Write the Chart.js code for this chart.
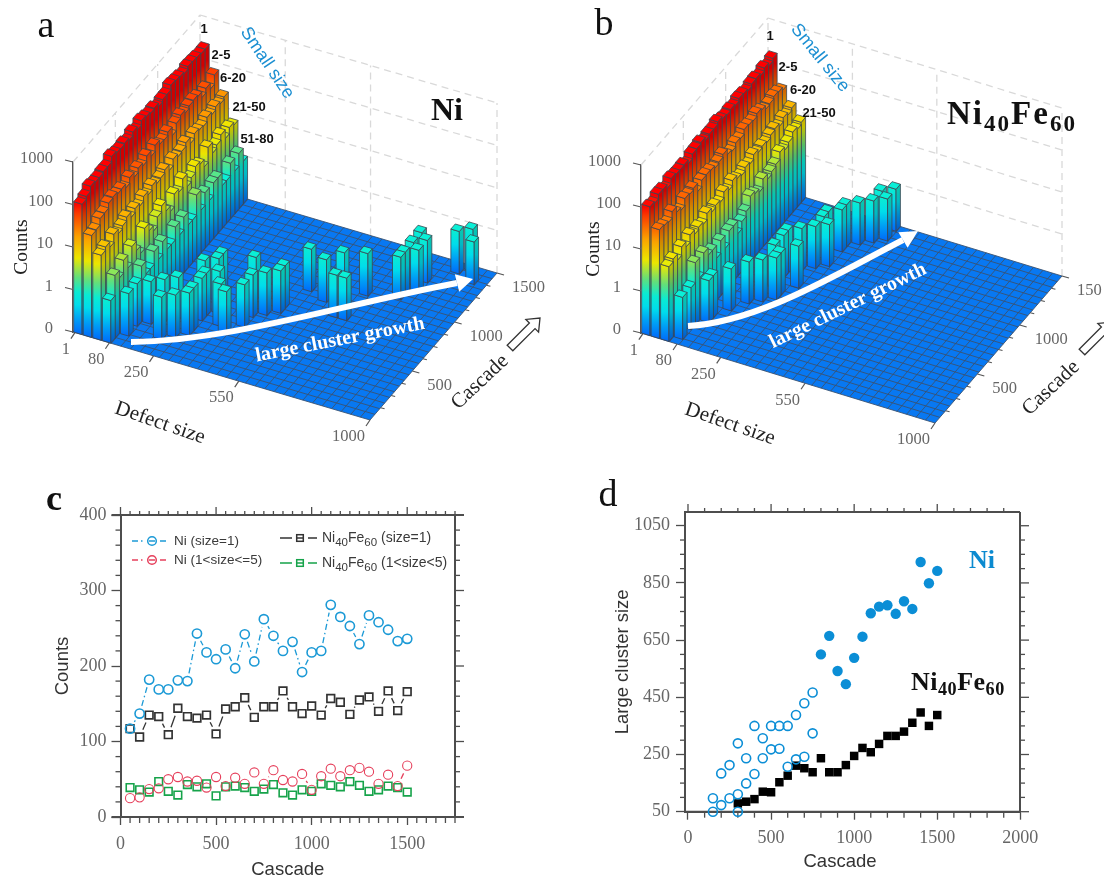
<!DOCTYPE html>
<html><head><meta charset="utf-8">
<style>
html,body{margin:0;padding:0;background:#fff;width:1104px;height:881px;overflow:hidden}
canvas{position:absolute;filter:blur(.4px)}
</style>
<script src="https://cdn.jsdelivr.net/npm/chart.js@4"></script>
</head><body>
<canvas id="pa" width="552" height="460" style="left:0;top:0"></canvas>
<canvas id="pb" width="552" height="460" style="left:552px;top:0"></canvas>
<canvas id="pc" width="552" height="411" style="left:0;top:470px"></canvas>
<canvas id="pd" width="552" height="411" style="left:552px;top:470px"></canvas>
<script>
const cascades=[50,100,150,200,250,300,350,400,450,500,550,600,650,700,750,800,850,900,950,1000,1050,1100,1150,1200,1250,1300,1350,1400,1450,1500];
const niSize1=[117,137,182,169,169,181,180,243,218,209,222,197,242,206,262,240,220,232,192,218,220,281,265,253,229,267,258,248,233,236];
const niSize2to5=[25,26,37,38,50,53,47,48,39,53,41,52,44,59,44,62,49,47,57,36,54,64,54,62,65,60,44,56,41,68];
const feSize1=[117,106,135,133,109,144,133,131,135,110,143,146,158,132,146,146,167,146,137,147,135,157,152,136,155,159,140,167,141,166];
const feSize2to5=[39,36,33,47,34,29,43,40,44,28,40,41,39,34,37,43,32,29,36,34,44,42,40,47,42,34,36,41,39,33];
const niSize6to20=[10,12,9,14,11,13,16,12,15,13,17,14,18,15,16,19,14,20,17,18,22,16,21,19,18,23,20,24,21,24];
const niSize21to50=[1,3,2,4,2,5,3,2,6,4,3,5,7,4,3,6,5,8,4,5,7,6,4,9,5,6,8,5,7,6];
const niSize51to80=[0,0,1,0,1,2,1,1,2,1,2,1,1,2,1,2,1,1,3,1,2,1,2,2,1,1,2,1,2,1];
const niLargeRow=[7,8,9,12,5,6,7,9,9,9,11,8,9,9,10,13,13,12,14,15,15,16,18,20,19,21,21,24,24,24,25,25,24,27,28,29];
const niLargeCascade=[3,4,5,7,5,6,7,6,8,9,8,11,12,13,10,9,11,14,12,13,14,18,17,15,19,15,20,21,22,24,23,25,26,28,29,27];
const feSize6to20=[6,7,5,8,6,9,7,8,7,10,8,9,8,11,9,12,10,9,11,10,13,11,12,11,13,14,12,15,13,15];
const feSize21to50=[0,1,0,1,3,1,3,2,2,1,2,1,2,2,1,1.5,2,3.5,3,2.5,4,3,3.5,4,6,5,6,8,7,8];
const feLargeRow=[4,4,5,6,7,8,7,8,9,7,7,8,9,10,9,9,10,10,11,12,13,12,13];
const feLargeCascade=[5,6,8,10,11,12,14,13,15,17,16,18,19,20,21,22,23,24,25,26,27,28,29];
const level3dTicks=[0,1,2,3,4];
const level3dLabels=['0','1','10','100','1000'];
const defectTickRows=[0.2,3.8,8.4,17.3,31];
const defectTickLabels=['1','80','250','550','1000'];
const cascadeTickCells=[10,20,30];
const cTicksX=[0,500,1000,1500];
const cTicksY=[0,100,200,300,400];
const dTicksX=[0,500,1000,1500,2000];
const dTicksY=[50,250,450,650,850,1050];
const niOpenX=[150,150,200,200,250,250,300,300,300,350,350,400,400,450,450,500,500,550,550,600,600,650,650,700,700,750,750];
const niOpenY=[97,50,184,73,213,97,289,111,50,237,149,350,182,307,237,350,268,350,270,350,207,388,233,429,242,467,324];
const niFilledX=[800,850,900,950,1000,1050,1100,1150,1200,1250,1300,1350,1400,1450,1500];
const niFilledY=[600,665,542,496,588,662,744,767,772,742,786,759,923,849,892];
const feClusterX=[300,350,400,450,500,550,600,650,700,750,800,850,900,950,1000,1050,1100,1150,1200,1250,1300,1350,1400,1450,1500];
const feClusterY=[79,85,94,120,118,153,176,211,202,188,237,188,188,213,245,273,258,287,315,315,330,361,397,350,388];

const SERIF='"Liberation Serif",serif', SANS='"Liberation Sans",Arial,sans-serif';
const GRAY='#666', AX='#4d4d4d';
const ROWS=31,CASC=30,FLOOR_C=26;
const level=v=>v>0?Math.log10(v)+1:0;
const jetStops=[[0,[0,105,255]],[.35,[0,160,250]],[.7,[0,225,240]],[1,[10,240,215]],[1.35,[100,228,125]],[1.8,[240,235,0]],[2.3,[255,165,0]],[2.85,[255,60,0]],[3.1,[255,0,0]],[4,[255,0,0]]];
function jet(l,s=1){
  for(let i=1;i<jetStops.length;i++){
    if(l<=jetStops[i][0]){
      const [a,ca]=jetStops[i-1],[b,cb]=jetStops[i],t=(l-a)/(b-a);
      return `rgb(${ca.map((q,k)=>Math.round((q+(cb[k]-q)*t)*s)).join(',')})`;
    }
  }
  return `rgb(${Math.round(255*s)},0,0)`;
}
function rowPts(arr,r){const out=[];arr.forEach((v,c)=>{if(v>0)out.push({x:r+.5,y:level(v),c});});return out;}
function sparsePts(rows,cs){return rows.map((r,i)=>({x:r+.5,y:level(1),c:cs[i]}));}

function faceGrad(ctx,yb,yt,l,s){
  const g=ctx.createLinearGradient(0,yb,0,yt);
  g.addColorStop(0,jet(0,s));
  jetStops.forEach(k=>{if(k[0]>0&&k[0]<l)g.addColorStop(k[0]/l,jet(k[0],s));});
  g.addColorStop(1,jet(l,s));
  return g;
}
function poly(ctx,pts){ctx.beginPath();pts.forEach((p,i)=>i?ctx.lineTo(p[0],p[1]):ctx.moveTo(p[0],p[1]));ctx.closePath();}
function text(ctx,s,x,y,font,color,angle=0,align='center'){
  ctx.save();ctx.translate(x,y);ctx.rotate(angle*Math.PI/180);ctx.font=font;ctx.fillStyle=color;ctx.textAlign=align;ctx.textBaseline='middle';ctx.fillText(s,0,0);ctx.restore();
}
function richNiFe(ctx,x,y,size,color,spacing){
  ctx.save();ctx.fillStyle=color;ctx.textAlign='left';ctx.textBaseline='alphabetic';ctx.letterSpacing=spacing+'px';
  const parts=[['Ni',0,1],['40',.2,.7],['Fe',0,1],['60',.2,.7]];
  parts.forEach(([t,d,k])=>{ctx.font=`bold ${size*k}px ${SERIF}`;ctx.fillText(t,x,y+d*size);x+=ctx.measureText(t).width;});
  ctx.restore();
}
function whiteArrow(ctx,p0,c1,c2,p1,tip,w,hw){
  ctx.save();ctx.strokeStyle='#fff';ctx.fillStyle='#fff';ctx.lineWidth=w;ctx.lineCap='butt';
  ctx.beginPath();ctx.moveTo(p0[0],p0[1]);ctx.bezierCurveTo(c1[0],c1[1],c2[0],c2[1],p1[0],p1[1]);ctx.stroke();
  const a=Math.atan2(tip[1]-p1[1],tip[0]-p1[0]),nx=-Math.sin(a),ny=Math.cos(a);
  poly(ctx,[tip,[p1[0]+nx*hw,p1[1]+ny*hw],[p1[0]-nx*hw,p1[1]-ny*hw]]);ctx.fill();ctx.restore();
}
function outlineArrow(ctx,x0,y0,x1,y1){
  const L=Math.hypot(x1-x0,y1-y0),a=Math.atan2(y1-y0,x1-x0);
  ctx.save();ctx.translate(x0,y0);ctx.rotate(a);ctx.fillStyle='#fff';ctx.strokeStyle='#333';ctx.lineWidth=1.3;
  poly(ctx,[[0,-4],[L-11,-4],[L-11,-9],[L,0],[L-11,9],[L-11,4],[0,4]]);ctx.fill();ctx.stroke();ctx.restore();
}

const scene3d={
  id:'scene3d',
  beforeDatasetsDraw(chart,args,o){
    const ctx=chart.ctx,sx=chart.scales.x,sc=chart.scales.cascade,sy=chart.scales.y;
    const P=(r,c,l)=>{const f=(sc.getPixelForValue(c)-sc.left)/sc.width,g=(sx.getPixelForValue(r)-sx.left)/sx.width;
      return [sx.getPixelForValue(r)+f*o.vx, sy.getPixelForValue(l)+g*o.du+f*o.vy];};
    ctx.save();
    ctx.strokeStyle='#d9d9d9';ctx.lineWidth=1.3;ctx.setLineDash([7,5]);
    const seg=(a,b)=>{ctx.beginPath();ctx.moveTo(a[0],a[1]);ctx.lineTo(b[0],b[1]);ctx.stroke();};
    level3dTicks.forEach(l=>{ if(l>0){seg(P(0,0,l),P(0,CASC,l));seg(P(0,CASC,l),P(ROWS,CASC,l));}});
    [0,8.9,17.8,ROWS].forEach(r=>seg(P(r,CASC,0),P(r,CASC,4)));
    [10,20].forEach(c=>seg(P(0,c,0),P(0,c,4)));
    ctx.setLineDash([]);
    ctx.fillStyle='#0878f2';poly(ctx,[P(0,0,0),P(ROWS,0,0),P(ROWS,CASC,0),P(0,CASC,0)]);ctx.fill();
    ctx.strokeStyle='#3a5272';ctx.lineWidth=.9;
    for(let r=0;r<=ROWS;r++)seg(P(r,0,0),P(r,CASC,0));
    for(let k=0;k<=FLOOR_C;k++){const c=k*CASC/FLOOR_C;seg(P(0,c,0),P(ROWS,c,0));}
    const bars=[];
    chart.data.datasets.forEach(d=>d.data.forEach(p=>bars.push(p)));
    bars.sort((a,b)=>b.c-a.c||a.x-b.x);
    ctx.lineWidth=.8;ctx.strokeStyle='#3c4650';
    bars.forEach(b=>{
      const r0=b.x-.44,r1=b.x+.44,c0=b.c+.02,c1=b.c+1.05,l=b.y;
      const A=P(r0,c0,0),B=P(r1,c0,0),C=P(r1,c1,0),At=P(r0,c0,l),Bt=P(r1,c0,l),Ct=P(r1,c1,l),Dt=P(r0,c1,l);
      ctx.fillStyle=faceGrad(ctx,B[1],Bt[1],l,.98);poly(ctx,[A,B,Bt,At]);ctx.fill();ctx.stroke();
      ctx.fillStyle=faceGrad(ctx,B[1],Bt[1],l,.82);poly(ctx,[B,C,Ct,Bt]);ctx.fill();ctx.stroke();
      ctx.fillStyle=jet(l,1);poly(ctx,[At,Bt,Ct,Dt]);ctx.fill();ctx.stroke();
    });
    ctx.strokeStyle='#555';ctx.lineWidth=1.2;
    defectTickRows.forEach((r,i)=>{const p=P(r,0,0);seg(p,[p[0]-4,p[1]+6]);
      text(ctx,defectTickLabels[i],p[0]-5,p[1]+17,`16.5px ${SERIF}`,GRAY,0,'right');});
    for(let c=2.5;c<=CASC;c+=2.5){const p=P(ROWS,c,0);const maj=cascadeTickCells.includes(c);seg(p,[p[0]+(maj?7:4),p[1]+(maj?2:1)]);}
    const cl=o.cascadeLabels;
    cascadeTickCells.forEach((c,i)=>{const p=P(ROWS,c,0);text(ctx,cl[i],p[0]+15,p[1]+15,`16.5px ${SERIF}`,GRAY,0,'left');});
    level3dTicks.forEach(l=>{const p=P(0,0,l);seg(p,[p[0]-8,p[1]-2]);});
    ctx.restore();
  },
  afterDatasetsDraw(chart,args,o){
    const ctx=chart.ctx;ctx.save();ctx.translate(-chart.canvas.offsetLeft,-chart.canvas.offsetTop);o.note(ctx);ctx.restore();
  }
};

function opts3d(left,width,top,bottom,cfg){
  return {
    type:'scatter',
    plugins:[scene3d],
    data:{datasets:cfg.datasets},
    options:{
      responsive:false,animation:false,events:[],
      layout:{padding:{top,right:552-left-width,bottom:460-bottom,left:0}},
      plugins:{legend:{display:false},tooltip:{enabled:false},scene3d:cfg.scene},
      scales:{
        x:{type:'linear',display:false,min:0,max:ROWS},
        cascade:{type:'linear',axis:'x',display:false,min:0,max:CASC},
        y:{type:'linear',position:'left',min:0,max:4,
          afterBuildTicks:s=>{s.ticks=level3dTicks.map(value=>({value}));},
          afterFit:s=>{s.width=left;},
          grid:{display:false},border:{display:true,color:'#555',width:1.4},
          ticks:{autoSkip:false,maxRotation:0,padding:12,labelOffset:-3,color:GRAY,font:{family:'Liberation Serif',size:16.5},callback:(v)=>level3dLabels[level3dTicks.indexOf(v)]},
          title:{display:true,text:'Counts',color:'#222',font:{family:'Liberation Serif',size:19.5},padding:{top:cfg.titleTop,bottom:0}}}
      }
    }
  };
}

new Chart(document.getElementById('pa'),opts3d(73,297,162,332,{
  titleTop:10,
  datasets:[
    {label:'1',data:rowPts(niSize1,0),pointRadius:0,showLine:false},
    {label:'2-5',data:rowPts(niSize2to5,1),pointRadius:0,showLine:false},
    {label:'6-20',data:rowPts(niSize6to20,2),pointRadius:0,showLine:false},
    {label:'21-50',data:rowPts(niSize21to50,3),pointRadius:0,showLine:false},
    {label:'51-80',data:rowPts(niSize51to80,4),pointRadius:0,showLine:false},
    {label:'large',data:sparsePts(niLargeRow,niLargeCascade),pointRadius:0,showLine:false}
  ],
  scene:{vx:127,vy:-147,du:88,cascadeLabels:['500','1000','1500'],note(ctx){
    text(ctx,'a',46,27,`38px ${SERIF}`,'#111');
    [['1',204,29],['2-5',221,55],['6-20',233,78],['21-50',249,107],['51-80',257,139]].forEach(t=>text(ctx,t[0],t[1],t[2],`bold 13px ${SANS}`,'#111'));
    text(ctx,'Small size',267,63,`18px ${SANS}`,'#1b8fd2',56);
    text(ctx,'Ni',447,112,`bold 32px ${SERIF}`,'#111');
    whiteArrow(ctx,[131,342],[230,341],[340,305],[457,283],[473,279],6,9);
    text(ctx,'large cluster growth',340,340,`bold 20px ${SERIF}`,'#fff',-11);
    text(ctx,'Defect size',160,423,`21px ${SERIF}`,'#222',19);
    text(ctx,'Cascade',480,382,`21px ${SERIF}`,'#222',-43);
    outlineArrow(ctx,510,348,540,318);
  }}
}));

new Chart(document.getElementById('pb'),opts3d(89,294,165,333,{
  titleTop:30,
  datasets:[
    {label:'1',data:rowPts(feSize1,0),pointRadius:0,showLine:false},
    {label:'2-5',data:rowPts(feSize2to5,1),pointRadius:0,showLine:false},
    {label:'6-20',data:rowPts(feSize6to20,2),pointRadius:0,showLine:false},
    {label:'21-50',data:rowPts(feSize21to50,3),pointRadius:0,showLine:false},
    {label:'large',data:sparsePts(feLargeRow,feLargeCascade),pointRadius:0,showLine:false}
  ],
  scene:{vx:127,vy:-147,du:90,cascadeLabels:['500','1000','150'],note(ctx){
    text(ctx,'b',604,25,`38px ${SERIF}`,'#111');
    [['1',770,36],['2-5',788,67],['6-20',803,90],['21-50',819,113]].forEach(t=>text(ctx,t[0],t[1],t[2],`bold 13px ${SANS}`,'#111'));
    text(ctx,'Small size',820,58,`18px ${SANS}`,'#1b8fd2',51);
    richNiFe(ctx,947,124,33,'#111',2);
    whiteArrow(ctx,[688,326],[760,322],[840,272],[903,240],[918,231],6,9);
    text(ctx,'large cluster growth',848,306,`bold 20px ${SERIF}`,'#fff',-26);
    text(ctx,'Defect size',730,424,`21px ${SERIF}`,'#222',19);
    text(ctx,'Cascade',1051,388,`21px ${SERIF}`,'#222',-43);
    outlineArrow(ctx,1082,352,1112,322);
  }}
}));

const frame={
  id:'frame',
  beforeDatasetsDraw(chart,args,o){
    const ctx=chart.ctx,a=chart.chartArea,sx=chart.scales.x,sy=chart.scales.y;
    ctx.save();ctx.strokeStyle=AX;
    const ln=(x0,y0,x1,y1)=>{ctx.beginPath();ctx.moveTo(x0,y0);ctx.lineTo(x1,y1);ctx.stroke();};
    ctx.lineWidth=1.3;
    for(let v=o.xMinorFrom;v<=sx.max+.01;v+=o.xMinor){
      const x=sx.getPixelForValue(v),maj=o.xMajor.includes(v);
      ln(x,a.top,x,a.top-(maj?8:4));
      if(!maj)ln(x,a.bottom,x,a.bottom+6);
    }
    for(let v=o.yMinorFrom;v<=sy.max+.01;v+=o.yMinor){
      const y=sy.getPixelForValue(v),maj=o.yMajor.includes(v);
      ln(a.right,y,a.right+(maj?9:5),y);
      if(!maj)ln(a.left,y,a.left-5,y);
    }
    ctx.lineWidth=2;
    ln(a.left-(o.extend||0),a.top,a.right+(o.extend||0),a.top);ln(a.right,a.top,a.right,a.bottom);
    ln(a.left-(o.extend||0),a.bottom,a.right+(o.extend||0),a.bottom);
    ctx.restore();
    if(o.segments){
      chart.data.datasets.forEach((d,i)=>{
        const pts=chart.getDatasetMeta(i).data;
        ctx.save();ctx.strokeStyle=d.borderColor;ctx.lineWidth=1.3;ctx.setLineDash(d.gapDash||[]);
        for(let k=1;k<pts.length;k++){
          const p=pts[k-1],q=pts[k],L=Math.hypot(q.x-p.x,q.y-p.y),g=o.gap;
          if(L<=2*g)continue;
          const ux=(q.x-p.x)/L,uy=(q.y-p.y)/L;
          ctx.beginPath();ctx.moveTo(p.x+ux*g,p.y+uy*g);ctx.lineTo(q.x-ux*g,q.y-uy*g);ctx.stroke();
        }
        ctx.restore();
      });
    }
  },
  afterDatasetsDraw(chart,args,o){
    const ctx=chart.ctx;ctx.save();ctx.translate(-chart.canvas.offsetLeft,-chart.canvas.offsetTop);o.note(ctx);ctx.restore();
  }
};
function axisOpts(min,max,ticks,axisSize,labelPad,tickLen,title,titlePad,isY){
  const t={type:'linear',min,max,
    afterBuildTicks:s=>{s.ticks=ticks.map(value=>({value}));},
    afterFit:s=>{if(isY)s.width=axisSize;else s.height=axisSize;},
    grid:{display:true,drawOnChartArea:false,drawTicks:true,tickLength:tickLen,tickColor:AX,tickWidth:1.3},
    border:{display:true,color:AX,width:2},
    ticks:{autoSkip:false,maxRotation:0,padding:labelPad,color:GRAY,font:{family:'Liberation Serif',size:18},callback:v=>String(v)},
    title:{display:!!title,text:title,color:'#333',font:{family:'Liberation Sans',size:18.5},padding:titlePad}};
  t.position=isY?'left':'bottom';
  return t;
}
function legendEntry(ctx,x0,x1,xm,y,color,dash,shape){
  ctx.save();ctx.strokeStyle=color;ctx.lineWidth=1.5;ctx.setLineDash(dash);
  ctx.beginPath();ctx.moveTo(x0,y);ctx.lineTo(xm-8,y);ctx.moveTo(xm+8,y);ctx.lineTo(x1,y);ctx.stroke();ctx.setLineDash([]);
  if(shape==='c'){ctx.beginPath();ctx.arc(xm,y,4.3,0,7);ctx.stroke();ctx.beginPath();ctx.moveTo(xm-3,y);ctx.lineTo(xm+3,y);ctx.stroke();}
  else{ctx.strokeRect(xm-3.3,y-3.3,6.6,6.6);ctx.beginPath();ctx.moveTo(xm-3,y);ctx.lineTo(xm+3,y);ctx.stroke();}
  ctx.restore();
}
function legendNiFe(ctx,x,y,tail){
  ctx.save();ctx.fillStyle='#3a3a3a';ctx.textAlign='left';ctx.textBaseline='alphabetic';
  [['Ni',0,14],['40',4,11.5],['Fe',0,14],['60',4,11.5],[' '+tail,0,14]].forEach(([t,d,s])=>{ctx.font=`${s}px ${SANS}`;ctx.fillText(t,x,y+d);x+=ctx.measureText(t).width;});
  ctx.restore();
}
new Chart(document.getElementById('pc'),{
  type:'scatter',plugins:[frame],
  data:{datasets:[
    {label:'Ni (size=1)',data:cascades.map((x,i)=>({x,y:niSize1[i]})),pointStyle:'circle',pointRadius:4.6,pointBorderWidth:1.6,pointBackgroundColor:'rgba(0,0,0,0)',pointBorderColor:'#1c9ad6',borderColor:'#1c9ad6',gapDash:[6,3,1.5,3],showLine:false},
    {label:'Ni (1<size<=5)',data:cascades.map((x,i)=>({x,y:niSize2to5[i]})),pointStyle:'circle',pointRadius:4.6,pointBorderWidth:1.1,pointBackgroundColor:'rgba(0,0,0,0)',pointBorderColor:'#e6405c',borderColor:'#e6405c',gapDash:[6,3,1.5,3],showLine:false},
    {label:'Ni40Fe60 (size=1)',data:cascades.map((x,i)=>({x,y:feSize1[i]})),pointStyle:'rect',pointRadius:5.4,pointBorderWidth:1.7,pointBackgroundColor:'rgba(0,0,0,0)',pointBorderColor:'#333',borderColor:'#333',showLine:false},
    {label:'Ni40Fe60 (1<size<5)',data:cascades.map((x,i)=>({x,y:feSize2to5[i]})),pointStyle:'rect',pointRadius:5.4,pointBorderWidth:1.6,pointBackgroundColor:'rgba(0,0,0,0)',pointBorderColor:'#16a34a',borderColor:'#16a34a',showLine:false}
  ]},
  options:{responsive:false,animation:false,events:[],
    layout:{padding:{top:45,right:97,bottom:0,left:0}},
    plugins:{legend:{display:false},tooltip:{enabled:false},
      frame:{xMinor:50,xMinorFrom:0,xMajor:cTicksX,yMinor:20,yMinorFrom:0,yMajor:cTicksY,segments:true,gap:8,extend:9,note(ctx){
        text(ctx,'c',54,501,`bold 36px ${SERIF}`,'#111');
        legendEntry(ctx,132,169,152,541,'#1c9ad6',[6,3,1.5,3],'c');
        legendEntry(ctx,132,169,152,560,'#e6405c',[6,3,1.5,3],'c');
        text(ctx,'Ni (size=1)',174,541,`13.5px ${SANS}`,'#3a3a3a',0,'left');
        text(ctx,'Ni (1<size<=5)',174,560,`13.5px ${SANS}`,'#3a3a3a',0,'left');
        legendEntry(ctx,280,317,300,538,'#333',[],'r');
        legendEntry(ctx,280,317,300,563,'#16a34a',[],'r');
        legendNiFe(ctx,322,542,'(size=1)');
        legendNiFe(ctx,322,567,'(1<size<5)');
      }}},
    scales:{
      x:axisOpts(0,1750,cTicksX,64,8,8,'Cascade',{top:0,bottom:0},false),
      y:axisOpts(0,400,cTicksY,120.5,5,9,'Counts',{top:52,bottom:0},true)
    }}
});
new Chart(document.getElementById('pd'),{
  type:'scatter',plugins:[frame],
  data:{datasets:[
    {label:'Ni open',data:niOpenX.map((x,i)=>({x,y:niOpenY[i]})),pointStyle:'circle',pointRadius:4.5,pointBorderWidth:1.6,pointBackgroundColor:'rgba(0,0,0,0)',pointBorderColor:'#0b8ed6',clip:false},
    {label:'Ni',data:niFilledX.map((x,i)=>({x,y:niFilledY[i]})),pointStyle:'circle',pointRadius:5.2,pointBorderWidth:0,pointBackgroundColor:'#0b8ed6',clip:false},
    {label:'Ni40Fe60',data:feClusterX.map((x,i)=>({x,y:feClusterY[i]})),pointStyle:'rect',pointRadius:6,pointBorderWidth:0,pointBackgroundColor:'#000',clip:false}
  ]},
  options:{responsive:false,animation:false,events:[],
    layout:{padding:{top:42,right:84,bottom:0,left:0}},
    plugins:{legend:{display:false},tooltip:{enabled:false},
      frame:{xMinor:100,xMinorFrom:0,xMajor:dTicksX,yMinor:50,yMinorFrom:50,yMajor:dTicksY,segments:false,extend:0,note(ctx){
        text(ctx,'d',608,496,`38px ${SERIF}`,'#111');
        text(ctx,'Ni',982,561,`bold 26px ${SERIF}`,'#0b8ad0');
        richNiFe(ctx,911,690,26,'#111',.5);
        text(ctx,'Cascade',840,862,`18.5px ${SANS}`,'#333');
      }}},
    scales:{
      x:axisOpts(-18,1998,dTicksX,69.3,8,8,'',{top:0,bottom:0},false),
      y:axisOpts(50,1098,dTicksY,133,6,9,'Large cluster size',{top:60,bottom:0},true)
    }}
});
</script>
</body></html>
